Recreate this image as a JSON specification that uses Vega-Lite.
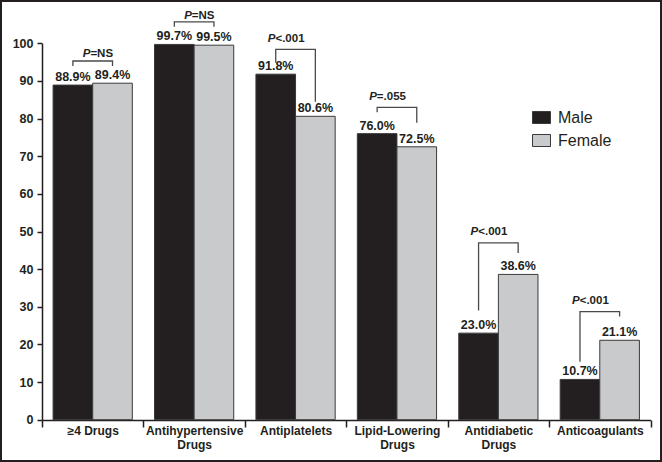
{
  "$schema": "https://vega.github.io/schema/vega-lite/v6.json",
  "width": 660,
  "height": 460,
  "padding": 1,
  "autosize": {"type": "none"},
  "background": "white",
  "config": {
    "view": {"stroke": "#231f20", "strokeWidth": 2},
    "font": "Liberation Sans"
  },
  "datasets": {
    "bars": [
      {"cat": "≥4 Drugs", "sex": "Male", "value": 88.9},
      {"cat": "≥4 Drugs", "sex": "Female", "value": 89.4},
      {"cat": "Antihypertensive Drugs", "sex": "Male", "value": 99.7},
      {"cat": "Antihypertensive Drugs", "sex": "Female", "value": 99.5},
      {"cat": "Antiplatelets", "sex": "Male", "value": 91.8},
      {"cat": "Antiplatelets", "sex": "Female", "value": 80.6},
      {"cat": "Lipid-Lowering Drugs", "sex": "Male", "value": 76.0},
      {"cat": "Lipid-Lowering Drugs", "sex": "Female", "value": 72.5},
      {"cat": "Antidiabetic Drugs", "sex": "Male", "value": 23.0},
      {"cat": "Antidiabetic Drugs", "sex": "Female", "value": 38.6},
      {"cat": "Anticoagulants", "sex": "Male", "value": 10.7},
      {"cat": "Anticoagulants", "sex": "Female", "value": 21.1}
    ],
    "brackets": [
      {"cat": "≥4 Drugs", "sex": "Male", "y": 94.0, "ord": 1},
      {"cat": "≥4 Drugs", "sex": "Male", "y": 95.3, "ord": 2},
      {"cat": "≥4 Drugs", "sex": "Female", "y": 95.3, "ord": 3},
      {"cat": "≥4 Drugs", "sex": "Female", "y": 94.0, "ord": 4},
      {"cat": "Antihypertensive Drugs", "sex": "Male", "y": 104.4, "ord": 1},
      {"cat": "Antihypertensive Drugs", "sex": "Male", "y": 105.7, "ord": 2},
      {"cat": "Antihypertensive Drugs", "sex": "Female", "y": 105.7, "ord": 3},
      {"cat": "Antihypertensive Drugs", "sex": "Female", "y": 104.4, "ord": 4},
      {"cat": "Antiplatelets", "sex": "Male", "y": 94.8, "ord": 1},
      {"cat": "Antiplatelets", "sex": "Male", "y": 98.4, "ord": 2},
      {"cat": "Antiplatelets", "sex": "Female", "y": 98.4, "ord": 3},
      {"cat": "Antiplatelets", "sex": "Female", "y": 84.5, "ord": 4},
      {"cat": "Lipid-Lowering Drugs", "sex": "Male", "y": 81.7, "ord": 1},
      {"cat": "Lipid-Lowering Drugs", "sex": "Male", "y": 83.0, "ord": 2},
      {"cat": "Lipid-Lowering Drugs", "sex": "Female", "y": 83.0, "ord": 3},
      {"cat": "Lipid-Lowering Drugs", "sex": "Female", "y": 78.9, "ord": 4},
      {"cat": "Antidiabetic Drugs", "sex": "Male", "y": 29.0, "ord": 1},
      {"cat": "Antidiabetic Drugs", "sex": "Male", "y": 47.0, "ord": 2},
      {"cat": "Antidiabetic Drugs", "sex": "Female", "y": 47.0, "ord": 3},
      {"cat": "Antidiabetic Drugs", "sex": "Female", "y": 44.3, "ord": 4},
      {"cat": "Anticoagulants", "sex": "Male", "y": 15.4, "ord": 1},
      {"cat": "Anticoagulants", "sex": "Male", "y": 28.7, "ord": 2},
      {"cat": "Anticoagulants", "sex": "Female", "y": 28.7, "ord": 3},
      {"cat": "Anticoagulants", "sex": "Female", "y": 27.4, "ord": 4}
    ],
    "pvals": [
      {"cat": "≥4 Drugs", "rest": "=NS", "ns": true, "py": 97.1},
      {"cat": "Antihypertensive Drugs", "rest": "=NS", "ns": true, "py": 107.3},
      {"cat": "Antiplatelets", "rest": "<.001", "ns": false, "py": 101.1},
      {"cat": "Lipid-Lowering Drugs", "rest": "=.055", "ns": false, "py": 85.8},
      {"cat": "Antidiabetic Drugs", "rest": "<.001", "ns": false, "py": 49.8},
      {"cat": "Anticoagulants", "rest": "<.001", "ns": false, "py": 31.5}
    ]
  },
  "encoding": {
    "x": {
      "field": "cat",
      "type": "nominal",
      "sort": ["≥4 Drugs", "Antihypertensive Drugs", "Antiplatelets", "Lipid-Lowering Drugs", "Antidiabetic Drugs", "Anticoagulants"],
      "scale": {"range": [41, 649.5], "paddingInner": 0, "paddingOuter": 0},
      "axis": {
        "title": null,
        "offset": -41,
        "tickBand": "extent",
        "tickSize": 7,
        "tickWidth": 1.5,
        "tickColor": "#231f20",
        "domainColor": "#231f20",
        "domainWidth": 1.5,
        "labelAngle": 0,
        "labelFont": "Liberation Sans",
        "labelFontWeight": "bold",
        "labelFontSize": 12,
        "labelColor": "#231f20",
        "labelPadding": -2,
        "labelLineHeight": 14,
        "labelBaseline": "top",
        "labelOverlap": false,
        "labelExpr": "!isValid(datum.value) ? '' : (datum.value == '≥4 Drugs' ? datum.value : split(datum.value, ' '))"
      }
    }
  },
  "layer": [
    {
      "data": {"name": "bars"},
      "mark": {"type": "bar", "stroke": "#3a3a3a", "strokeWidth": 1},
      "encoding": {
        "xOffset": {"field": "sex", "type": "nominal", "sort": ["Male", "Female"], "scale": {"paddingInner": 0, "paddingOuter": 0.28}},
        "y": {
          "field": "value",
          "type": "quantitative",
          "scale": {"domain": [0, 100], "range": [418.7, 42.3], "nice": false},
          "axis": {
            "title": null,
            "offset": -41,
            "values": [0, 10, 20, 30, 40, 50, 60, 70, 80, 90, 100],
            "grid": false,
            "tickSize": 5,
            "tickWidth": 1.5,
            "tickColor": "#231f20",
            "domainColor": "#231f20",
            "domainWidth": 1.5,
            "labelFont": "Liberation Sans",
            "labelFontWeight": "bold",
            "labelFontSize": 12.5,
            "labelColor": "#231f20",
            "labelPadding": 4
          }
        },
        "color": {
          "field": "sex",
          "type": "nominal",
          "sort": ["Male", "Female"],
          "scale": {"domain": ["Male", "Female"], "range": ["#231f20", "#c8cacc"]},
          "legend": {
            "title": null,
            "orient": "none",
            "legendX": 531,
            "legendY": 107,
            "padding": 0,
            "symbolType": "M-1,-0.667H1V0.667H-1Z",
            "symbolSize": 324,
            "symbolStrokeColor": "#3a3a3a",
            "symbolStrokeWidth": 1,
            "labelFont": "Liberation Sans",
            "labelFontSize": 16,
            "labelColor": "#231f20",
            "labelOffset": 7,
            "rowPadding": 5
          }
        }
      }
    },
    {
      "data": {"name": "bars"},
      "transform": [{"calculate": "format(datum.value, '.1f') + '%'", "as": "label"}],
      "mark": {"type": "text", "baseline": "bottom", "align": "center", "dy": -1, "font": "Liberation Sans", "fontWeight": "bold", "fontSize": 12.5, "color": "#231f20"},
      "encoding": {
        "xOffset": {"field": "sex", "type": "nominal", "sort": ["Male", "Female"]},
        "y": {"field": "value", "type": "quantitative"},
        "text": {"field": "label"}
      }
    },
    {
      "data": {"name": "brackets"},
      "mark": {"type": "line", "color": "#4a4a4a", "strokeWidth": 1.3},
      "encoding": {
        "xOffset": {"field": "sex", "type": "nominal", "sort": ["Male", "Female"]},
        "y": {"field": "y", "type": "quantitative"},
        "detail": {"field": "cat"},
        "order": {"field": "ord", "type": "quantitative"}
      }
    },
    {
      "data": {"name": "pvals"},
      "transform": [{"filter": "!datum.ns"}],
      "mark": {"type": "text", "align": "left", "baseline": "middle", "dx": -8, "font": "Liberation Sans", "fontWeight": "bold", "fontStyle": "italic", "fontSize": 11.5, "color": "#231f20"},
      "encoding": {
        "xOffset": {"datum": "Male"},
        "y": {"field": "py", "type": "quantitative"},
        "text": {"value": "P"}
      }
    },
    {
      "data": {"name": "pvals"},
      "transform": [{"filter": "!datum.ns"}],
      "mark": {"type": "text", "align": "left", "baseline": "middle", "dx": -0.3, "font": "Liberation Sans", "fontWeight": "bold", "fontSize": 11.5, "color": "#231f20"},
      "encoding": {
        "xOffset": {"datum": "Male"},
        "y": {"field": "py", "type": "quantitative"},
        "text": {"field": "rest"}
      }
    },
    {
      "data": {"name": "pvals"},
      "transform": [{"filter": "datum.ns"}],
      "mark": {"type": "text", "align": "left", "baseline": "middle", "dx": -10, "font": "Liberation Sans", "fontWeight": "bold", "fontStyle": "italic", "fontSize": 11.5, "color": "#231f20"},
      "encoding": {
        "y": {"field": "py", "type": "quantitative"},
        "text": {"value": "P"}
      }
    },
    {
      "data": {"name": "pvals"},
      "transform": [{"filter": "datum.ns"}],
      "mark": {"type": "text", "align": "left", "baseline": "middle", "dx": -2.3, "font": "Liberation Sans", "fontWeight": "bold", "fontSize": 11.5, "color": "#231f20"},
      "encoding": {
        "y": {"field": "py", "type": "quantitative"},
        "text": {"field": "rest"}
      }
    }
  ]
}
